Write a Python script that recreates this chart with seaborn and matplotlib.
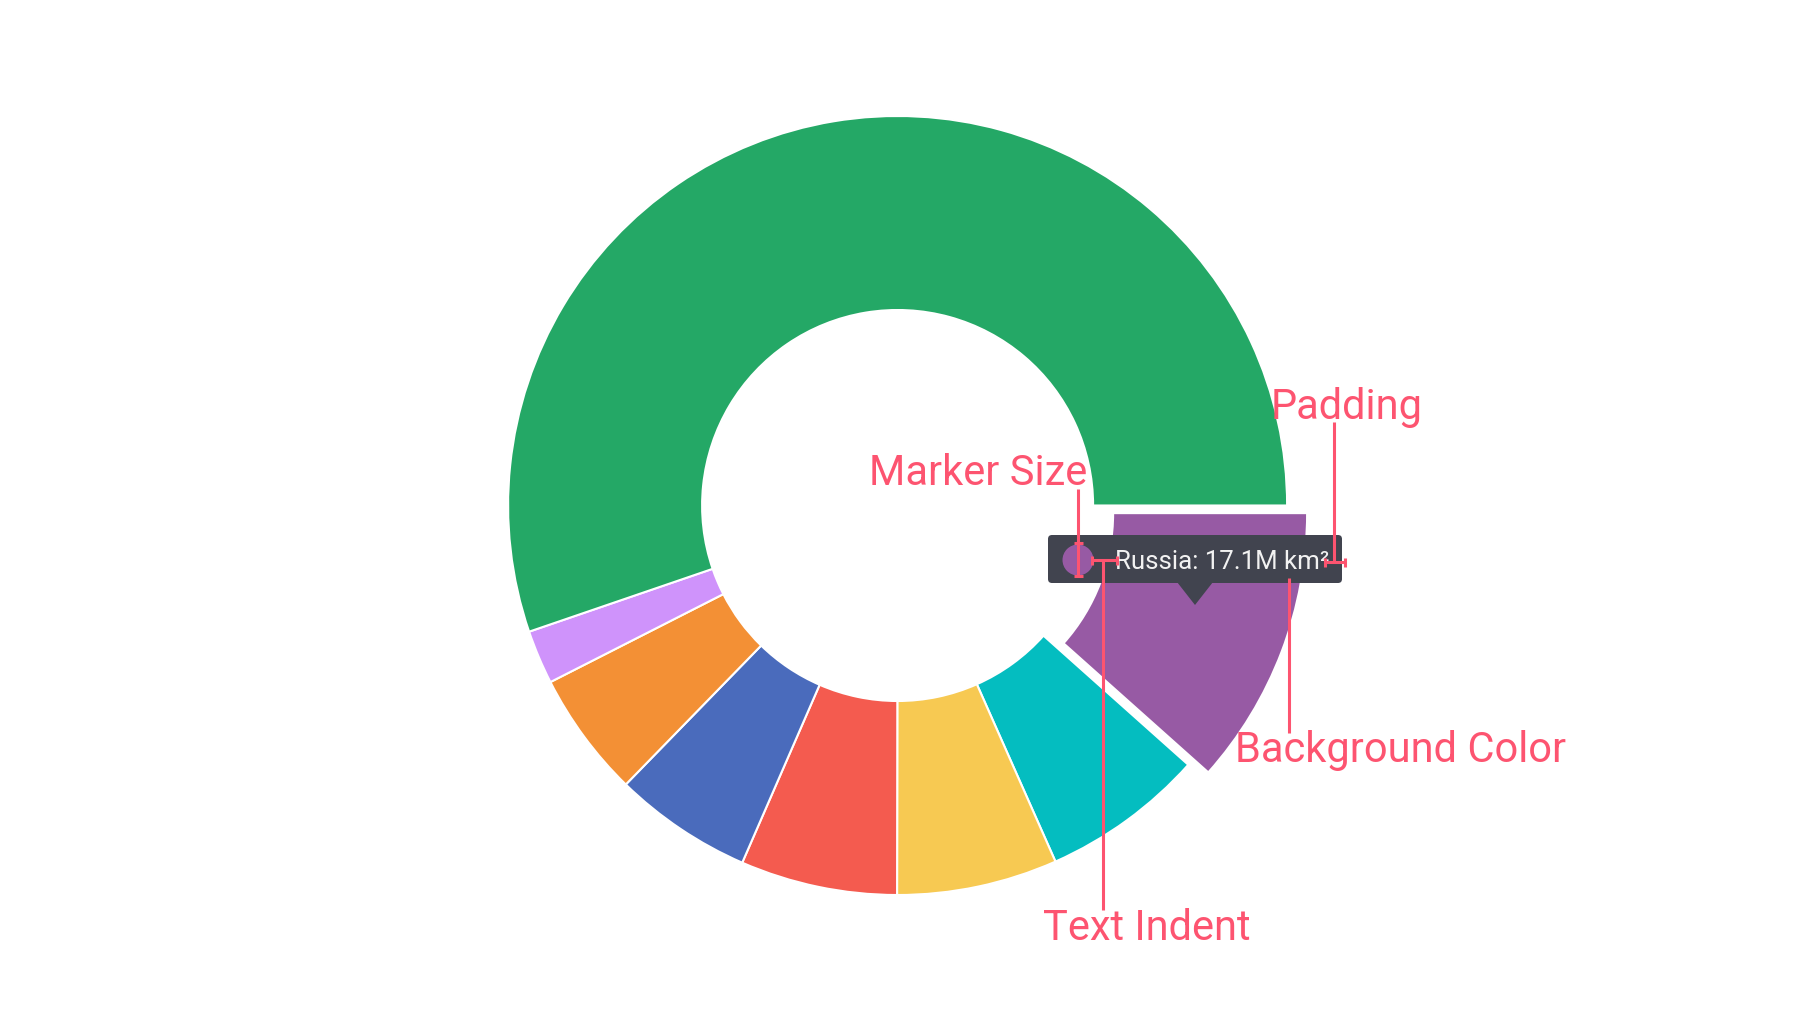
import matplotlib
matplotlib.use("Agg")
import matplotlib.pyplot as plt
import seaborn as sns
from matplotlib.patches import FancyBboxPatch, Polygon, Circle

# ---- data ----
countries = ["Russia", "Canada", "USA", "China", "Brazil", "Australia", "India", "Rest of World"]
areas = [17.1, 9.98, 9.83, 9.6, 8.5, 7.7, 3.3, 81.5]  # million km²
colors = ["#975aa4", "#04bdc0", "#f7c952", "#f45b4f", "#4a6bbc", "#f39035", "#cf93fb", "#24a866"]
tooltip_text = "Russia: 17.1M km²"
callouts = ["Marker Size", "Padding", "Background Color", "Text Indent"]

sns.set_theme(style="white")
plt.rcParams['font.family'] = ['Roboto', 'DejaVu Sans']

W, H = 1793, 1014
fig = plt.figure(figsize=(W / 100, H / 100), dpi=100)
ax = fig.add_axes([0, 0, 1, 1])

cx, cy, R, R_in = 897.6, 505.5, 389.5, 195.5
explode = [0.055 * R if c == "Russia" else 0 for c in countries]
wedges, _ = ax.pie(areas, colors=colors, explode=explode, startangle=0,
                   counterclock=True, radius=R, center=(cx, cy),
                   wedgeprops=dict(width=R - R_in, edgecolor="white", linewidth=1.5))
ax.set_xlim(0, W)
ax.set_ylim(H, 0)
ax.set_aspect("equal")
ax.axis("off")

# ---- tooltip ----
box_c = "#41444f"
ax.add_patch(FancyBboxPatch((1048, 535), 294, 48,
                            boxstyle="round,pad=0,rounding_size=4",
                            fc=box_c, ec="none", zorder=5))
ax.add_patch(Polygon([(1177, 582), (1213, 582), (1195, 605)], closed=True,
                     fc=box_c, ec="none", zorder=5))
ax.add_patch(Circle((1078, 560), 15.5, fc=colors[0], ec="none", zorder=6))
ax.text(1115, 569, tooltip_text, color="#f2f2f2", fontsize=18.6,
        ha="left", va="baseline", zorder=7)

# ---- callouts ----
cc = "#fd5470"
lw = 2.2


def line(x1, y1, x2, y2):
    ax.plot([x1, x2], [y1, y2], color=cc, lw=lw, solid_capstyle="butt", zorder=8)


def dim(x1, y1, x2, y2, cap=4.5):
    line(x1, y1, x2, y2)
    if x1 == x2:
        line(x1 - cap, y1, x1 + cap, y1)
        line(x2 - cap, y2, x2 + cap, y2)
    else:
        line(x1, y1 - cap, x1, y1 + cap)
        line(x2, y2 - cap, x2, y2 + cap)


fs = 30
# Marker Size
dim(1078, 543, 1078, 576)
line(1078, 489, 1078, 543)
ax.text(869, 485, callouts[0], color=cc, fontsize=fs, ha="left", va="baseline", zorder=8)
# Padding
dim(1325, 562, 1345, 562)
line(1334, 422, 1334, 562)
ax.text(1271, 419, callouts[1], color=cc, fontsize=fs, ha="left", va="baseline", zorder=8)
# Background Color
line(1289, 578, 1289, 733)
ax.text(1235, 762, callouts[2], color=cc, fontsize=fs, ha="left", va="baseline", zorder=8)
# Text Indent
dim(1092, 560, 1117, 560)
line(1103, 560, 1103, 910)
ax.text(1043, 940, callouts[3], color=cc, fontsize=fs, ha="left", va="baseline", zorder=8)

fig.savefig("out.png", dpi=100, facecolor="white")
